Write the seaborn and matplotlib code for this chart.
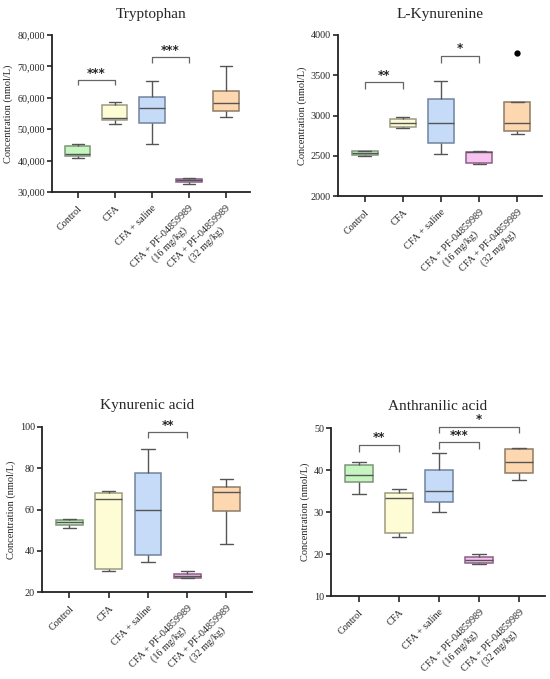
import numpy as np
import pandas as pd
import matplotlib
matplotlib.use("Agg")
import matplotlib.pyplot as plt
from matplotlib.ticker import FuncFormatter, MultipleLocator
import seaborn as sns

# ---------------- data ----------------
groups = ["Control", "CFA", "CFA + saline",
          "CFA + PF-04859989\n(16 mg/kg)", "CFA + PF-04859989\n(32 mg/kg)"]

# Five-number summaries (min, Q1, median, Q3, max / outlier)
trp_control = [40900, 41500, 42100, 44800, 45200]
trp_cfa = [51800, 52900, 53700, 57550, 58700]
trp_saline = [45400, 52100, 56900, 60300, 65300]
trp_pf16 = [32600, 33100, 33700, 34000, 34300]
trp_pf32 = [54000, 55700, 58500, 62300, 70100]

kyn_control = [2495, 2505, 2530, 2560, 2565]
kyn_cfa = [2845, 2853, 2903, 2952, 2977]
kyn_saline = [2518, 2654, 2903, 3209, 3433]
kyn_pf16 = [2398, 2406, 2550, 2551, 2559]
kyn_pf32 = [2770, 2807, 2903, 3172, 3772]

kyna_control = [51.2, 52.3, 53.7, 55.0, 55.4]
kyna_cfa = [30.0, 31.1, 65.2, 68.0, 69.0]
kyna_saline = [34.7, 38.1, 59.6, 77.5, 89.4]
kyna_pf16 = [26.6, 26.9, 27.9, 28.9, 30.4]
kyna_pf32 = [43.2, 59.1, 68.6, 71.1, 74.8]

aa_control = [34.2, 37.1, 38.9, 41.3, 41.8]
aa_cfa = [24.0, 24.9, 33.3, 34.6, 35.5]
aa_saline = [30.1, 32.5, 35.0, 39.9, 44.0]
aa_pf16 = [17.7, 17.8, 18.6, 19.4, 20.0]
aa_pf32 = [37.6, 39.3, 41.9, 45.1, 45.25]

titles = ["Tryptophan", "L-Kynurenine", "Kynurenic acid", "Anthranilic acid"]
y_ranges = [(30000, 80000, 10000), (2000, 4000, 500), (20, 100, 20), (10, 50, 10)]

# significance brackets: (group i, group j, bracket top y, leg bottom y, label)
trp_sig = [(0, 1, 65600, 64000, "***"), (2, 3, 72900, 71000, "***")]
kyn_sig = [(0, 1, 3412, 3325, "**"), (2, 3, 3739, 3648, "*")]
kyna_sig = [(2, 3, 97.4, 94.7, "**")]
aa_sig = [(0, 1, 46.0, 44.3, "**"), (2, 3, 46.6, 44.9, "***"), (2, 4, 50.2, 48.8, "*")]

fill_colors = ["#c6f5c0", "#fefcd4", "#c6dbf8", "#f8c2f0", "#fdd7b0"]
edge_colors = ["#7d957b", "#9c9a82", "#7184a0", "#8a5f87", "#8f7b66"]

panels = [
    [trp_control, trp_cfa, trp_saline, trp_pf16, trp_pf32],
    [kyn_control, kyn_cfa, kyn_saline, kyn_pf16, kyn_pf32],
    [kyna_control, kyna_cfa, kyna_saline, kyna_pf16, kyna_pf32],
    [aa_control, aa_cfa, aa_saline, aa_pf16, aa_pf32],
]
sigs = [trp_sig, kyn_sig, kyna_sig, aa_sig]

# ---------------- figure ----------------
sns.set_style("ticks")
plt.rcParams["font.family"] = ["Liberation Serif", "DejaVu Serif"]

W, H = 550, 679
fig = plt.figure(figsize=(W / 100, H / 100), dpi=100)

# axes boxes in pixels: left, right, top, bottom
boxes_px = [(52, 250, 35, 192), (338, 542, 35, 196), (42, 252, 427, 592), (331, 545, 428, 596)]
title_pads = [12, 12, 13, 13]

for k, (vals, sig) in enumerate(zip(panels, sigs)):
    l, r, t, b = boxes_px[k]
    ax = fig.add_axes([l / W, 1 - b / H, (r - l) / W, (b - t) / H])
    df = pd.DataFrame({
        "group": np.repeat(groups, [len(v) for v in vals]),
        "value": np.concatenate(vals),
    })
    sns.boxplot(data=df, x="group", y="value", hue="group", order=groups,
                hue_order=groups, palette=fill_colors, saturation=1, legend=False,
                width=0.68, linewidth=1.0, linecolor="#555555", whis=1.5,
                flierprops=dict(marker="o", markerfacecolor="black",
                                markeredgecolor="black", markersize=3.5),
                ax=ax)
    # per-box edge colours
    for p, ec in zip(ax.patches, edge_colors):
        p.set_edgecolor(ec)
        p.set_linewidth(1.1)
    for line in ax.lines:
        if line.get_marker() == "o":
            continue
        line.set_color("#555555")
        line.set_linewidth(1.0)

    lo, hi, step = y_ranges[k]
    ax.set_ylim(lo, hi)
    ax.yaxis.set_major_locator(MultipleLocator(step))
    if k == 0:
        ax.yaxis.set_major_formatter(FuncFormatter(lambda v, p: f"{int(v):,}"))
    ax.set_xlim(-0.7, 4.65)
    ax.set_xlabel("")
    ax.set_ylabel("Concentration (nmol/L)", fontsize=7.5, labelpad=3)
    ax.set_title(titles[k], fontsize=11, pad=title_pads[k])
    ax.set_xticks(range(len(groups)))
    ax.set_xticklabels(groups, rotation=45, ha="right", rotation_mode="anchor",
                       fontsize=7.3, multialignment="center")
    ax.tick_params(axis="y", labelsize=7.3, length=3.5, width=1.2, pad=1.5)
    ax.tick_params(axis="x", length=4.5, width=1.2, pad=4)
    for s in ("top", "right"):
        ax.spines[s].set_visible(False)
    for s in ("left", "bottom"):
        ax.spines[s].set_linewidth(1.3)
        ax.spines[s].set_color("#222222")

    for (i, j, ytop, ybot, lab) in sig:
        ax.plot([i, i, j, j], [ybot, ytop, ytop, ybot], color="#666666", lw=0.9,
                solid_capstyle="butt", clip_on=False)
        ax.annotate(lab, xy=((i + j) / 2, ytop), xytext=(0, 0.5),
                    textcoords="offset points", ha="center", va="bottom",
                    fontsize=8.5, fontweight="bold", family="DejaVu Sans",
                    annotation_clip=False)

fig.savefig("out.png", dpi=100, facecolor="white")
